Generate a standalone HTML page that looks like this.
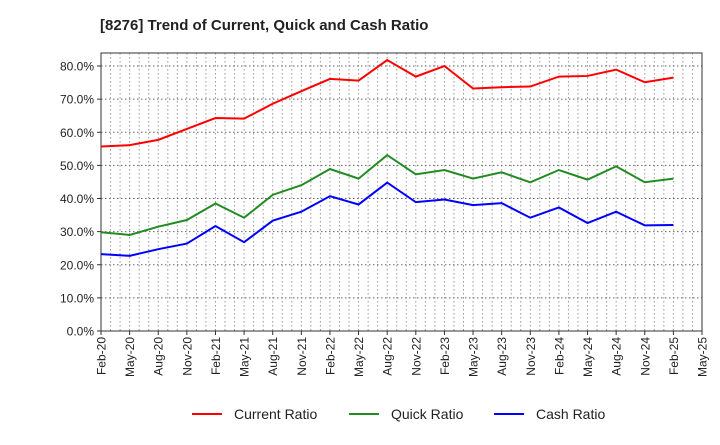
<!DOCTYPE html>
<html><head><meta charset="utf-8"><style>
body{margin:0;background:#fff;font-family:"Liberation Sans",sans-serif}
svg text{font-family:"Liberation Sans",sans-serif}
</style></head><body>
<svg id="c" width="720" height="440" xmlns="http://www.w3.org/2000/svg">
<text x="100" y="30" font-size="15" font-weight="bold" fill="#222">[8276]  Trend of Current, Quick and Cash Ratio</text>
<g id="grid"></g><g id="axes"></g><g id="series"></g>
<g>
<g><line x1="192" y1="414" x2="222" y2="414" stroke="#f00" stroke-width="2"/><text x="234" y="419" font-size="14" fill="#222">Current Ratio</text></g>
<g><line x1="349" y1="414" x2="379" y2="414" stroke="#228b22" stroke-width="2"/><text x="391" y="419" font-size="14" fill="#222">Quick Ratio</text></g>
<g><line x1="494" y1="414" x2="524" y2="414" stroke="#00f" stroke-width="2"/><text x="536" y="419" font-size="14" fill="#222">Cash Ratio</text></g>
</g>
</svg>
<script>
const categories=["Feb-20","May-20","Aug-20","Nov-20","Feb-21","May-21","Aug-21","Nov-21","Feb-22","May-22","Aug-22","Nov-22","Feb-23","May-23","Aug-23","Nov-23","Feb-24","May-24","Aug-24","Nov-24","Feb-25","May-25"];
const currentRatio=[55.7,56.1,57.7,61.0,64.3,64.1,68.6,72.4,76.1,75.6,81.8,76.8,80.0,73.2,73.6,73.8,76.8,77.0,78.9,75.1,76.5];
const quickRatio=[29.8,29.0,31.5,33.5,38.5,34.2,41.1,44.0,48.9,46.0,53.1,47.3,48.6,46.0,47.9,44.9,48.6,45.7,49.7,44.9,46.0];
const cashRatio=[23.2,22.7,24.7,26.4,31.7,26.8,33.3,36.0,40.7,38.2,44.8,38.9,39.7,38.0,38.6,34.2,37.3,32.6,36.0,31.9,32.0];
const yTicks=[0,10,20,30,40,50,60,70,80];
const L=101,R=702,T=53,B=331,yMax=84;
const NS="http://www.w3.org/2000/svg";
const step=(R-L)/(categories.length-1);
const xs=i=>L+i*step;
const ys=v=>B-v/yMax*(B-T)*(yMax/84);
const Y=v=>B-v*(B-66)/80;
function mk(tag,attrs,parent){const e=document.createElementNS(NS,tag);for(const k in attrs)e.setAttribute(k,attrs[k]);parent.appendChild(e);return e;}
const grid=document.getElementById('grid'),axes=document.getElementById('axes'),ser=document.getElementById('series');
for(let m=1;m<(categories.length-1)*3;m++){
 const x=L+m*step/3;
 const l=mk('line',{x1:x,x2:x,y1:T,y2:B,stroke:'#999','stroke-dasharray':'1.5,2.5','stroke-width':1},grid);
 
 
}
yTicks.forEach(v=>{
 const y=Y(v);
 if(v>0){const g=mk('line',{x1:L,x2:R,y1:y,y2:y,stroke:'#666','stroke-dasharray':'1.5,2.5','stroke-width':1},grid);
 
 }
 mk('line',{x1:L-4,x2:L,y1:y,y2:y,stroke:'#333'},axes);
 const t=mk('text',{x:L-7,y:y+4.5,'font-size':12,'text-anchor':'end',fill:'#222'},axes);
 t.textContent=v.toFixed(1)+'%';
 
 
});
categories.forEach((c,i)=>{
 const x=xs(i);
 mk('line',{x1:x,x2:x,y1:B,y2:B+4,stroke:'#333'},axes);
 const t=mk('text',{x:0,y:0,'font-size':12,'text-anchor':'end',fill:'#222',transform:`translate(${x+4.5},${B+6}) rotate(-90)`},axes);
 t.textContent=c;
 
 
});
const frame=mk('rect',{x:L,y:T,width:R-L,height:B-T,fill:'none',stroke:'#333','stroke-width':1},axes);


[[currentRatio,'#f00','current-ratio-line'],[quickRatio,'#228b22','quick-ratio-line'],[cashRatio,'#00f','cash-ratio-line']].forEach(([d,col,name])=>{
 const p=mk('polyline',{points:d.map((v,i)=>xs(i)+','+Y(v)).join(' '),fill:'none',stroke:col,'stroke-width':2},ser);
 
 
});
</script>
</body></html>
